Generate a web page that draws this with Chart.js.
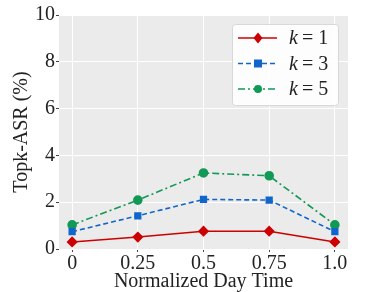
<!DOCTYPE html>
<html>
<head>
<meta charset="utf-8">
<script src="https://cdn.jsdelivr.net/npm/chart.js@4"></script>
<style>
  html, body { margin: 0; padding: 0; background: #fff; }
  #wrap { width: 366px; height: 292px; }
</style>
</head>
<body>
<div id="wrap"><canvas id="myChart" width="366" height="292"></canvas></div>
<script>
const dayTimes = [0, 0.25, 0.5, 0.75, 1.0];
const xTickLabels = ['0', '0.25', '0.5', '0.75', '1.0'];
const k1Values = [0.30, 0.51, 0.76, 0.76, 0.30];
const k3Values = [0.74, 1.42, 2.12, 2.09, 0.74];
const k5Values = [1.03, 2.09, 3.25, 3.13, 1.03];
const seriesNames = ['1', '3', '5'];

const serif = '"Liberation Serif", "DejaVu Serif", serif';

const plotBg = {
    id: 'plotBg',
    beforeDraw(chart) {
        const { ctx, chartArea: a } = chart;
        ctx.save();
        ctx.fillStyle = '#ebebeb';
        ctx.fillRect(a.left, a.top, a.right - a.left, a.bottom - a.top);
        ctx.restore();
    }
};

// legend box with line + marker samples, top right
const lineLegend = {
    id: 'lineLegend',
    afterDraw(chart) {
        const { ctx, chartArea: a } = chart;
        const x = a.right - 116, y = a.top + 9, w = 106, h = 81;
        ctx.save();
        ctx.fillStyle = 'rgba(255,255,255,0.9)';
        ctx.strokeStyle = '#d8d8d8';
        ctx.lineWidth = 1;
        ctx.beginPath();
        ctx.roundRect(x + 0.5, y + 0.5, w, h, 3);
        ctx.fill();
        ctx.stroke();
        chart.data.datasets.forEach((ds, i) => {
            const cy = y + 14 + i * 25.5;
            ctx.strokeStyle = ds.borderColor;
            ctx.lineWidth = ds.borderWidth;
            ctx.setLineDash(ds.borderDash || []);
            ctx.beginPath();
            ctx.moveTo(x + 6, cy);
            ctx.lineTo(x + 45, cy);
            ctx.stroke();
            ctx.setLineDash([]);
            ctx.fillStyle = ds.borderColor;
            const r = ds.pointRadius;
            ctx.beginPath();
            if (ds.pointStyle === 'rectRot') {
                ctx.moveTo(x + 26, cy - r - 1); ctx.lineTo(x + 26 + r, cy);
                ctx.lineTo(x + 26, cy + r + 1); ctx.lineTo(x + 26 - r, cy);
                ctx.closePath();
            } else if (ds.pointStyle === 'rect') {
                ctx.rect(x + 26 - r, cy - r, 2 * r, 2 * r);
            } else {
                ctx.arc(x + 26, cy, r, 0, Math.PI * 2);
            }
            ctx.fill();
            ctx.fillStyle = '#222';
            ctx.textBaseline = 'middle';
            ctx.font = 'italic 20px ' + serif;
            ctx.fillText('k', x + 57, cy + 1);
            ctx.font = '20px ' + serif;
            ctx.fillText('= ' + seriesNames[i], x + 70, cy + 1);
        });
        ctx.restore();
    }
};

const ctx = document.getElementById('myChart');
const myChart = new Chart(ctx, {
    type: 'line',
    data: {
        datasets: [{
            label: 'k = 1',
            data: dayTimes.map((t, i) => ({ x: t, y: k1Values[i] })),
            borderColor: '#cc0000',
            backgroundColor: '#cc0000',
            borderWidth: 1.6,
            pointStyle: 'rectRot',
            pointRadius: 4.5
        }, {
            label: 'k = 3',
            data: dayTimes.map((t, i) => ({ x: t, y: k3Values[i] })),
            borderColor: '#1166cc',
            backgroundColor: '#1166cc',
            borderWidth: 1.6,
            borderDash: [5, 3],
            pointStyle: 'rect',
            pointRadius: 4
        }, {
            label: 'k = 5',
            data: dayTimes.map((t, i) => ({ x: t, y: k5Values[i] })),
            borderColor: '#119955',
            backgroundColor: '#119955',
            borderWidth: 1.6,
            borderDash: [7, 3, 2, 3],
            pointStyle: 'circle',
            pointRadius: 4
        }]
    },
    options: {
        responsive: false,
        animation: false,
        layout: { padding: { left: 6, right: 18, top: 15, bottom: 0 } },
        plugins: { legend: { display: false }, tooltip: { enabled: false } },
        scales: {
            x: {
                type: 'linear',
                min: -0.05,
                max: 1.05,
                afterBuildTicks(axis) { axis.ticks = dayTimes.map(v => ({ value: v })); },
                ticks: {
                    color: '#222',
                    font: { family: serif, size: 20, lineHeight: 1.0 },
                    padding: 2,
                    maxRotation: 0,
                    callback: (v) => xTickLabels[dayTimes.indexOf(v)]
                },
                grid: { color: '#ffffff', lineWidth: 1, drawTicks: true, tickLength: 3, tickColor: '#444' },
                border: { display: false },
                title: {
                    display: true,
                    text: 'Normalized Day Time',
                    color: '#222',
                    font: { family: serif, size: 20, lineHeight: 1.0 },
                    padding: { top: -4, bottom: 0 }
                }
            },
            y: {
                min: 0,
                max: 10,
                ticks: {
                    stepSize: 2,
                    color: '#222',
                    font: { family: serif, size: 20 },
                    padding: 1
                },
                grid: { color: '#ffffff', lineWidth: 1, drawTicks: true, tickLength: 3, tickColor: '#444' },
                border: { display: false },
                title: {
                    display: true,
                    text: 'Topk-ASR (%)',
                    color: '#222',
                    font: { family: serif, size: 20 },
                    padding: { bottom: 0 }
                }
            }
        }
    },
    plugins: [plotBg, lineLegend]
});
</script>
</body>
</html>
